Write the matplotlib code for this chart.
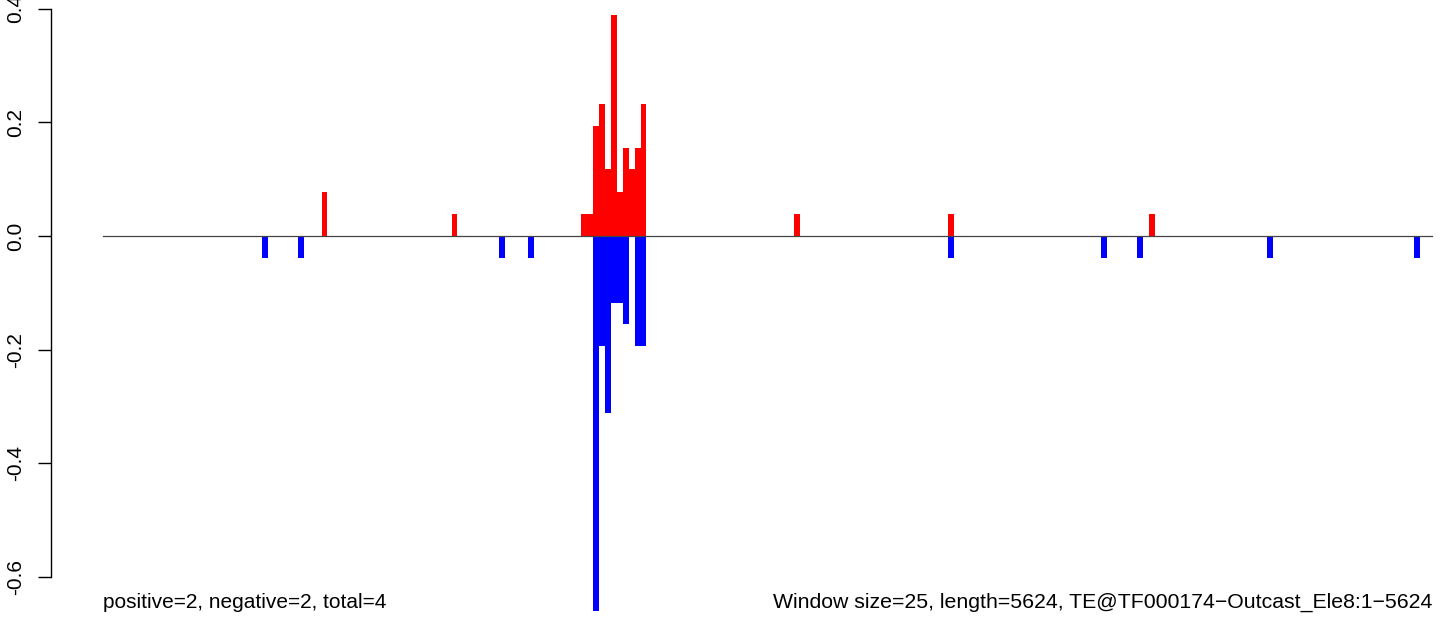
import numpy as np
import matplotlib
matplotlib.use('Agg')
import matplotlib.pyplot as plt

plt.rcParams['font.family'] = ['Liberation Sans', 'DejaVu Sans']

window = 25
seq_len = 5624

# window index -> value (fraction)
red_idx = [37, 59, 81, 82, 83, 84, 85, 86, 87, 88, 89, 90, 91, 117, 143, 177]
red_val = [0.078, 0.039, 0.039, 0.039, 0.194, 0.233, 0.117, 0.389, 0.078,
           0.155, 0.117, 0.155, 0.233, 0.039, 0.039, 0.039]

blue_idx = [27, 33, 67, 72, 83, 84, 85, 86, 87, 88, 90, 91, 143, 169, 175, 197, 222]
blue_val = [-0.039, -0.039, -0.039, -0.039, -0.660, -0.194, -0.311, -0.117, -0.117,
            -0.155, -0.194, -0.194, -0.039, -0.039, -0.039, -0.039, -0.039]

yticks = [-0.6, -0.4, -0.2, 0.0, 0.2, 0.4]

fig = plt.figure(figsize=(14.44, 6.19), dpi=100)
ax = fig.add_axes([51 / 1444, 0, 1 - 51 / 1444, 1])

ax.bar(np.array(red_idx) * window, red_val, width=window, align='edge',
       color='#ff0000', linewidth=0, zorder=2)
ax.bar(np.array(blue_idx) * window, blue_val, width=window, align='edge',
       color='#0000ff', linewidth=0, zorder=2)
ax.plot([0, seq_len], [0, 0], color='#444444', linewidth=0.9, zorder=3)

ax.set_xlim(-220, 5675)
ax.set_ylim(-0.6737, 0.4151)

# R-style left axis only
for s in ['top', 'right', 'bottom']:
    ax.spines[s].set_visible(False)
ax.spines['left'].set_bounds(-0.6, 0.4)
ax.spines['left'].set_linewidth(1.0)
ax.set_xticks([])
ax.set_yticks(yticks)
ax.set_yticklabels([f'{v:.1f}' for v in yticks], rotation=90, va='center', fontsize=15)
ax.tick_params(axis='y', length=9.5, width=1.0, pad=9)

ax.text(0, -0.645, 'positive=2, negative=2, total=4', ha='left', va='center', fontsize=15)
ax.text(seq_len, -0.645,
        'Window size=25, length=5624, TE@TF000174\u2212Outcast_Ele8:1\u22125624',
        ha='right', va='center', fontsize=15.3)

fig.savefig('out.png', dpi=100)
